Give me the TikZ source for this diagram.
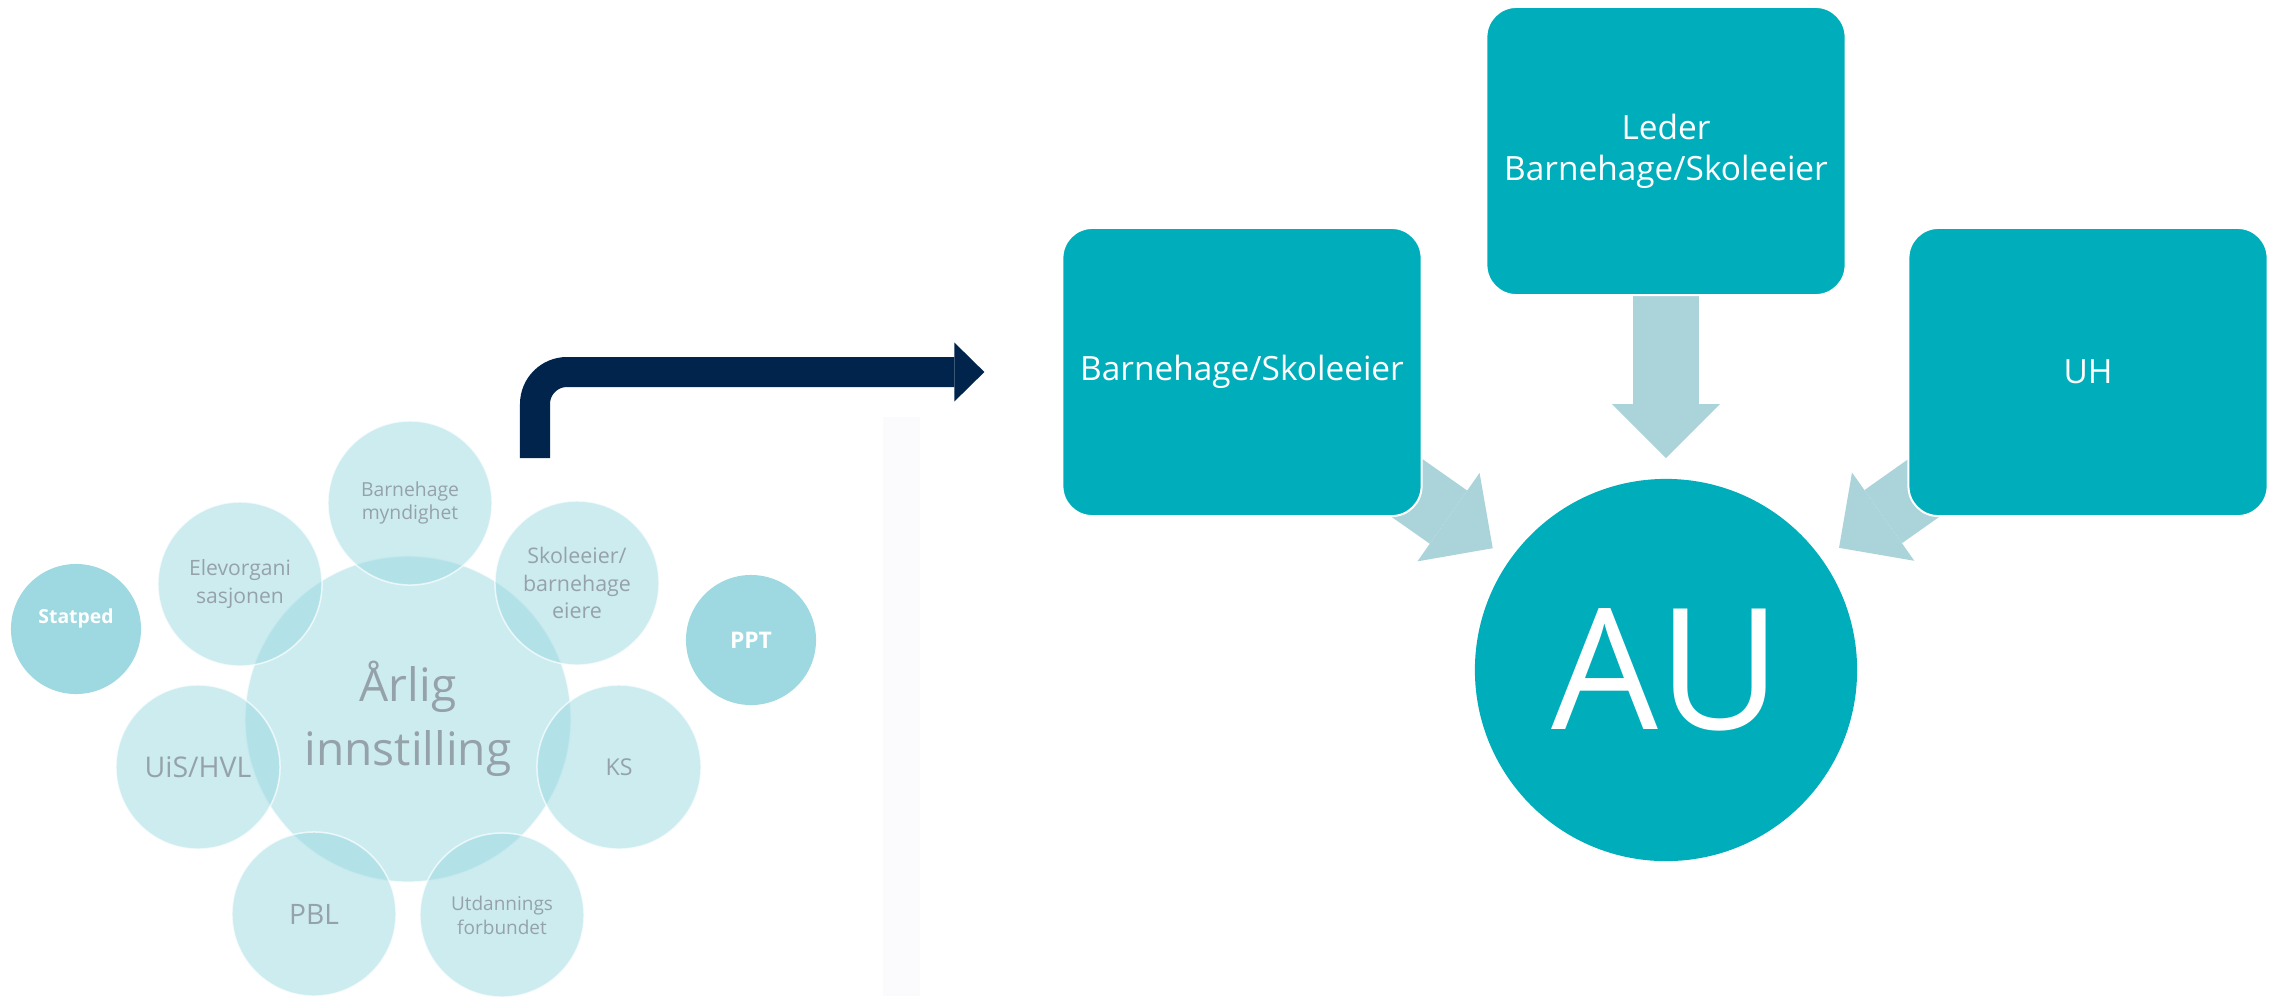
\documentclass[tikz,border=0pt]{standalone}
\usepackage{fontspec}
\setmainfont{Open Sans}
\usetikzlibrary{arrows.meta}
\definecolor{aucyan}{RGB}{0,174,187}
\definecolor{arrowblue}{RGB}{170,211,218}
\definecolor{darknavy}{RGB}{0,36,76}
\definecolor{clusfill}{RGB}{153,217,225}
\definecolor{clusdark}{RGB}{158,217,225}
\definecolor{clustext}{RGB}{150,162,170}
\definecolor{faintgrey}{RGB}{251,251,253}
\pgfdeclarelayer{bg}
\pgfsetlayers{bg,main}

\begin{document}
\begin{tikzpicture}
			[x=0.01cm, y=-0.01cm,
			boxnode/.style ={rectangle, draw=white, line width=0.02cm, fill=aucyan, text=white, rounded corners=0.3cm, minimum width=3.59cm, minimum height=2.88cm, align=center, font=\fontsize{9.5pt}{11.7pt}\selectfont},
			ring/.style ={circle, inner sep=0pt, fill=clusfill, fill opacity=0.5, text opacity=1, draw=white, draw opacity=0.7, line width=0.015cm, text=clustext, align=center, minimum size=1.64cm},
			solo/.style ={circle, inner sep=0pt, fill=clusdark, text=white, align=center, minimum size=1.3cm},
			flowarrow/.style ={line width=0.65cm, draw=arrowblue, shorten >=0.2cm, -{Triangle[length=0.54cm, width=1.08cm, line width=0pt]}},
			navyarrow/.style ={line width=0.3cm, draw=darknavy, rounded corners=0.32cm, -{Triangle[length=0.3cm, width=0.59cm, line width=0pt]}}]
			\useasboundingbox (0,0) rectangle (2275,996);
			\fill[faintgrey] (883,417) rectangle (920,996);
			\node [ring, minimum size=3.26cm, font=\fontsize{13.1pt}{18.2pt}\selectfont] (arlig) at (408,719) {Årlig\\innstilling};
			\node [ring, font=\fontsize{5.5pt}{6.5pt}\selectfont] (myndighet) at (410,503) {Barnehage\\myndighet};
			\node [ring, font=\fontsize{6pt}{7.7pt}\selectfont] (elevorg) at (240,584) {Elevorgani\\sasjonen};
			\node [ring, font=\fontsize{6.1pt}{7.7pt}\selectfont] (eiere) at (577,583) {Skoleeier/\\barnehage\\eiere};
			\node [ring, font=\fontsize{8.1pt}{9pt}\selectfont] (uis) at (198,767) {UiS/HVL};
			\node [ring, font=\fontsize{6.6pt}{8pt}\selectfont] (ks) at (619,767) {KS};
			\node [ring, font=\fontsize{8pt}{9pt}\selectfont] (pbl) at (314,914) {PBL};
			\node [ring, font=\fontsize{5.4pt}{6.8pt}\selectfont] (forbund) at (502,915) {Utdannings\\forbundet};
			\node [solo, text depth=0.25cm, font=\bfseries\fontsize{5.5pt}{6.5pt}\selectfont] (statped) at (76,629) {Statped};
			\node [solo, font=\bfseries\fontsize{6.5pt}{8pt}\selectfont] (ppt) at (751,640) {PPT};

			\node [boxnode] (lederbox) at (1666,151) {Leder\\Barnehage/Skoleeier};
			\node [boxnode] (skoleeierbox) at (1242,372) {Barnehage/Skoleeier};
			\node [boxnode] (uhbox) at (2088,372) {UH};
			\node [circle, fill=aucyan, text=white, minimum size=3.82cm, inner sep=0pt, font=\fontsize{48pt}{50pt}\selectfont] (au) at (1666,670) {AU};

			\begin{pgfonlayer}{bg}
				\draw [flowarrow] (lederbox.south) -- (au);
				\draw [flowarrow] (skoleeierbox.center) -- (au);
				\draw [flowarrow] (uhbox.center) -- (au);
			\end{pgfonlayer}

			\coordinate (bendstart) at (535,458);
			\draw [navyarrow] (bendstart) |- ([xshift=-0.77cm]skoleeierbox.west);
		\end{tikzpicture}
\end{document}
